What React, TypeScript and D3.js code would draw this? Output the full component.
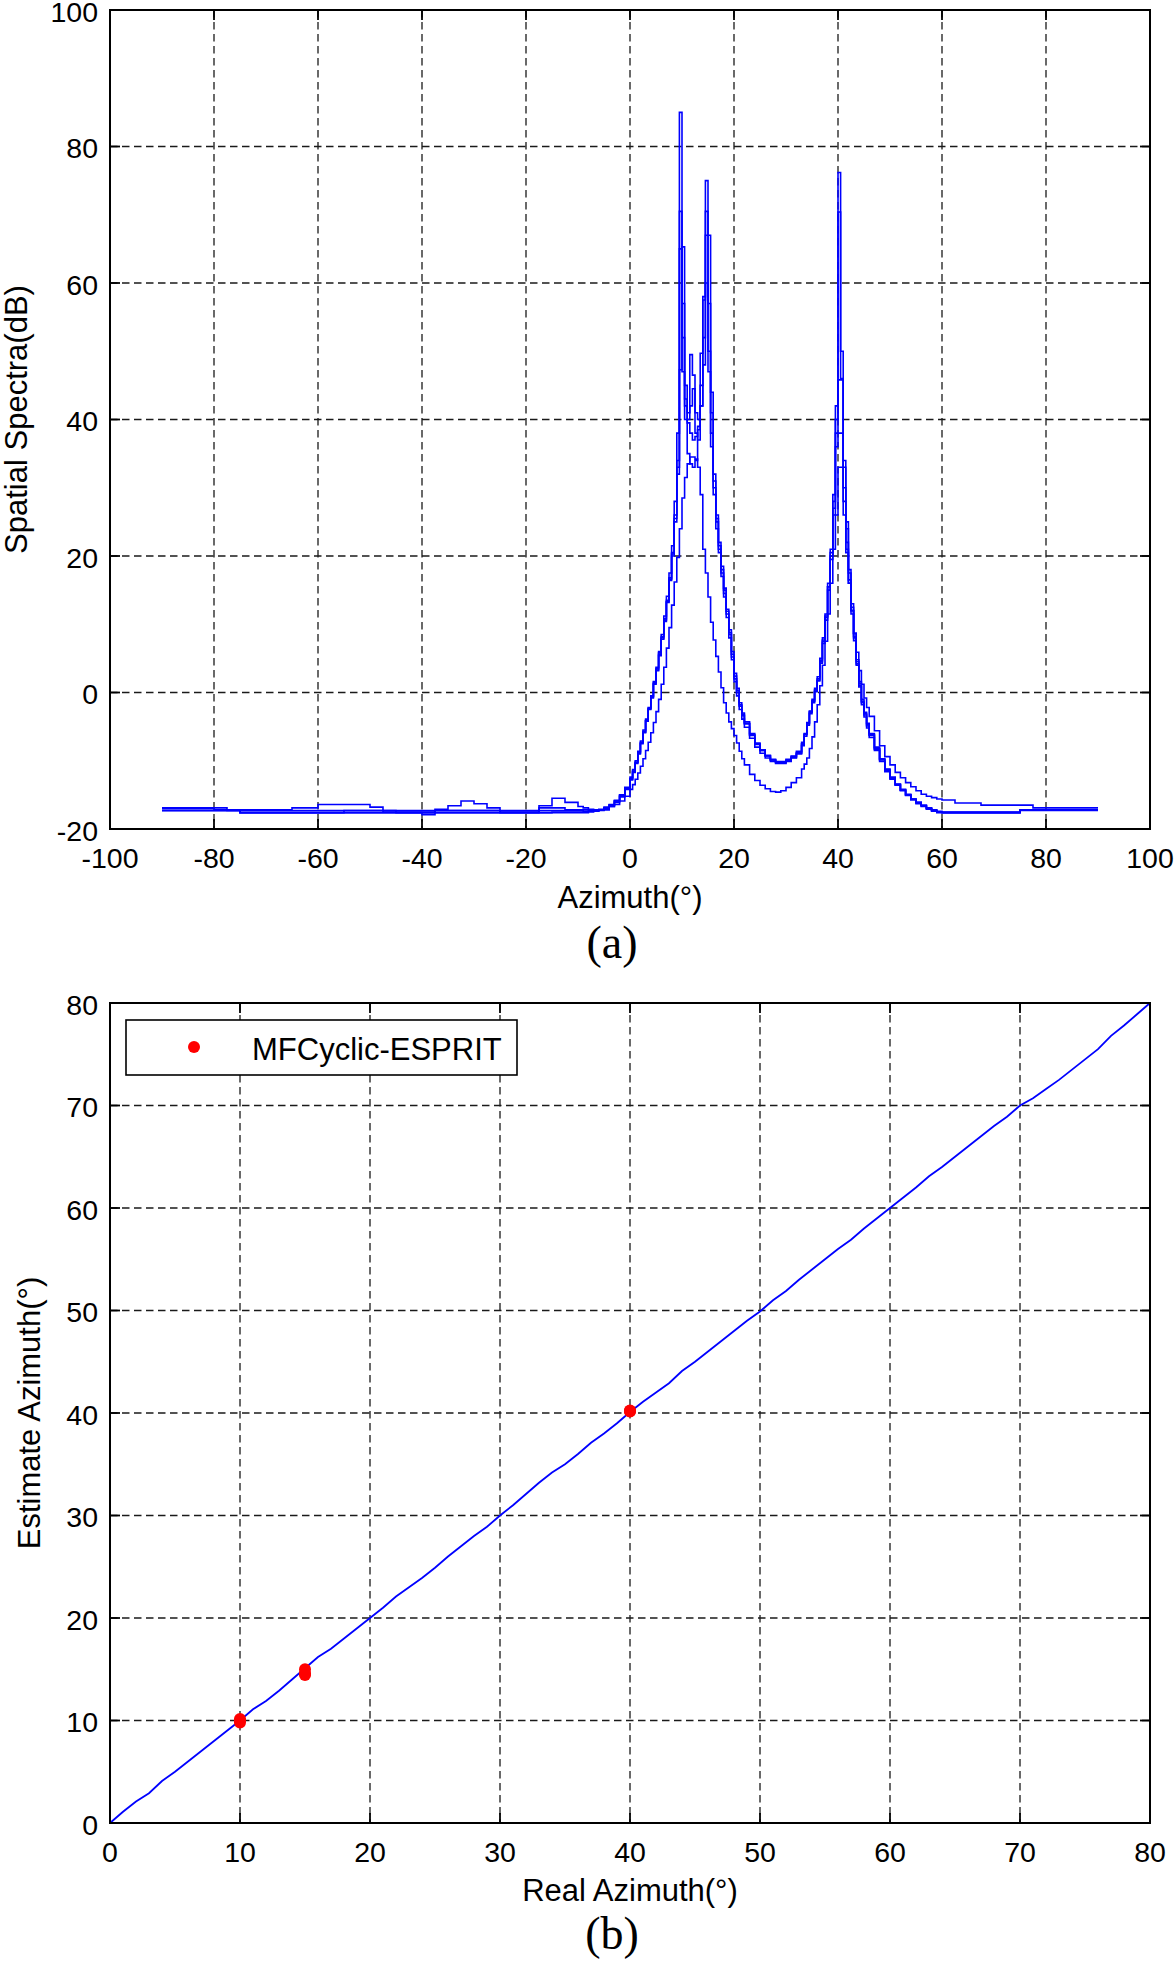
import React from 'react';
import * as d3 from 'd3';

// ---------- (a) spatial spectra ----------
const azimuthGrid = [
  -90, -87.5, -85, -82.5, -80, -77.5, -75, -72.5, -70, -67.5, -65, -62.5, -60, -57.5, -55, -52.5, -50,
  -47.5, -45, -42.5, -40, -37.5, -35, -32.5, -30, -27.5, -25, -22.5, -20, -17.5, -15, -12.5, -10,
  -9, -8, -7, -6, -5, -4, -3, -2, -1,
  0, 0.5, 1, 1.5, 2, 2.5, 3, 3.5, 4, 4.5, 5, 5.5, 6, 6.5, 7, 7.5, 8, 8.5, 9, 9.5, 10, 10.5, 11, 11.5,
  12, 12.5, 13, 13.5, 14, 14.5, 15, 15.5, 16, 16.5, 17, 17.5, 18, 18.5, 19, 19.5, 20, 20.5, 21, 21.5, 22,
  23, 24, 25, 26, 27, 28, 29, 30, 31, 32,
  33, 33.5, 34, 34.5, 35, 35.5, 36, 36.5, 37, 37.5, 38, 38.5, 39, 39.5, 40, 40.5, 41, 41.5, 42, 42.5,
  43, 43.5, 44, 44.5, 45, 45.5, 46,
  47, 48, 49, 50, 51, 52, 53, 54, 55, 56, 57, 58, 59, 60,
  62.5, 65, 67.5, 70, 72.5, 75, 77.5, 80, 82.5, 85, 87.5, 90,
];

const spectrumRun1 = [
  -17.3, -17.3, -17.3, -17.3, -17.3, -17.3, -17.6, -17.6, -17.6, -17.6, -17.6, -17.6, -17.6, -17.6, -17.6, -17.6, -17.6,
  -17.6, -17.6, -17.6, -17.6, -17.6, -17.6, -17.6, -17.6, -17.6, -17.6, -17.6, -17.6, -17.6, -17.5, -17.5, -17.5,
  -17.5, -17.4, -17.3, -17.1, -16.8, -16.4, -15.8, -15.0, -13.9,
  -12.4, -11.3, -10.0, -8.6, -7.1, -5.5, -3.9, -2.2, -0.5, 1.5, 3.5, 5.8, 8.2, 10.8, 13.5, 16.8, 20.5, 26, 33, 85, 52, 43, 39.5, 38,
  37, 37.5, 39, 42, 48, 75, 50, 38, 30, 25, 21, 17.5, 14.5, 11.5, 8.5, 5.2, 2.0, 0, -2.0, -3.4, -4.6,
  -6.3, -7.6, -8.5, -9.3, -9.9, -10.2, -10.2, -9.9, -9.4, -8.9,
  -7.6, -6.2, -4.6, -2.9, -1.3, 0.2, 1.8, 4.5, 7.5, 11, 15.5, 20, 28, 40, 76.2, 50, 33, 24, 17.5, 12.5,
  8, 4.2, 1, -1.5, -3.3, -4.9, -6.3,
  -8.3, -9.9, -11.4, -12.6, -13.5, -14.3, -15.0, -15.7, -16.2, -16.6, -17.0, -17.3, -17.5, -17.6,
  -17.6, -17.6, -17.6, -17.6, -17.6, -17.2, -17.2, -17.2, -17.2, -17.2, -17.2, -17.2,
];

const spectrumRun2 = [
  -17.0, -17.0, -17.0, -17.0, -17.2, -17.2, -17.2, -17.2, -17.2, -17.2, -16.9, -16.9, -16.4, -16.4, -16.4, -16.4, -16.8,
  -17.5, -17.5, -17.5, -17.5, -17.1, -16.6, -15.9, -16.3, -16.9, -17.5, -17.5, -17.5, -16.6, -15.5, -16.1, -16.7,
  -16.9, -17.1, -17.2, -17.3, -17.2, -16.7, -16.1, -15.3, -14.2,
  -12.8, -11.7, -10.4, -9.0, -7.5, -5.9, -4.2, -2.5, -0.8, 1.2, 3.2, 5.4, 7.8, 10.4, 13.2, 16.4, 20, 25.5, 34, 70.5, 57, 45, 41, 42,
  44.5, 41, 40, 45, 58, 70.5, 67, 44, 32, 26, 22, 18.5, 15.3, 12.2, 9.2, 6.0, 2.8, 0.6, -1.5, -3.0, -4.3,
  -6.0, -7.4, -8.4, -9.2, -9.8, -10.1, -10.1, -9.8, -9.3, -8.6,
  -7.3, -6.0, -4.4, -2.7, -1.0, 0.6, 2.3, 5.0, 8.0, 11.5, 16, 21, 29, 42, 70.4, 46, 34, 25, 18, 13,
  8.6, 4.8, 1.6, -1.0, -2.9, -4.5, -6.0,
  -8.0, -9.7, -11.2, -12.4, -13.4, -14.2, -14.9, -15.6, -16.1, -16.5, -16.9, -17.2, -17.4, -17.5,
  -17.5, -17.5, -17.5, -17.5, -17.5, -17.2, -17.2, -17.2, -17.2, -17.2, -17.2, -17.2,
];

const spectrumRun3 = [
  -17.3, -17.3, -17.3, -17.3, -17.3, -17.3, -17.6, -17.6, -17.6, -17.6, -17.6, -17.6, -17.6, -17.6, -17.3, -17.3, -17.3,
  -17.3, -17.6, -17.6, -17.6, -17.3, -17.3, -17.3, -17.3, -17.3, -17.6, -17.6, -17.6, -16.9, -16.9, -17.2, -17.2,
  -17.2, -17.3, -17.3, -17.2, -16.9, -16.5, -15.9, -15.1, -14.0,
  -12.6, -11.5, -10.2, -8.8, -7.3, -5.7, -4.1, -2.4, -0.7, 1.3, 3.3, 5.6, 8.0, 10.6, 13.3, 16.6, 20.3, 25, 32, 47.3, 65.3, 42, 40, 49.5,
  46.5, 38, 37, 49.7, 57.5, 67, 57, 41, 31, 25.5, 21.5, 18, 15, 11.9, 8.8, 5.6, 2.4, 0.3, -1.8, -3.2, -4.5,
  -6.2, -7.5, -8.5, -9.3, -9.9, -10.3, -10.3, -10.0, -9.5, -8.8,
  -7.5, -6.1, -4.5, -2.8, -1.2, 0.4, 2.0, 4.7, 7.7, 11.2, 15.5, 20.5, 27, 38, 45.8, 45.8, 30, 22, 16.5, 12,
  8.2, 4.5, 1.3, -1.3, -3.1, -4.7, -6.2,
  -8.2, -9.8, -11.3, -12.5, -13.5, -14.3, -15.0, -15.6, -16.1, -16.6, -17.0, -17.3, -17.5, -17.6,
  -17.6, -17.6, -17.6, -17.6, -17.6, -17.3, -17.3, -17.3, -17.3, -17.3, -17.3, -17.3,
];

const spectrumRun4 = [
  -17.3, -17.3, -17.3, -17.3, -17.3, -17.3, -17.6, -17.6, -17.6, -17.6, -17.6, -17.6, -17.6, -17.6, -17.6, -17.6, -17.6,
  -17.6, -17.6, -17.6, -17.9, -17.6, -17.6, -17.6, -17.6, -17.6, -17.6, -17.6, -17.6, -17.6, -17.6, -17.6, -17.6,
  -17.6, -17.5, -17.4, -17.2, -16.9, -16.5, -15.9, -15.1, -14.1,
  -12.7, -11.6, -10.3, -8.9, -7.4, -5.8, -4.1, -2.3, -0.5, 1.6, 3.7, 6.0, 8.5, 11.2, 14.1, 17.5, 21.5, 28, 38, 65, 47, 40, 35, 33.5,
  33, 34, 38.5, 42, 52, 60, 47, 36, 29, 24, 20.5, 17, 14, 11, 8, 4.8, 1.6, -0.5, -2.5, -3.9, -5.1,
  -6.7, -8.0, -8.9, -9.6, -10.1, -10.4, -10.4, -10.1, -9.6, -9.0,
  -7.8, -6.4, -4.8, -3.1, -1.5, 0.1, 1.7, 4.3, 7.2, 10.6, 15, 19.5, 26, 36, 38, 38, 28, 21, 16, 11.5,
  7.6, 4.0, 0.8, -1.8, -3.6, -5.2, -6.6,
  -8.5, -10.1, -11.6, -12.7, -13.6, -14.4, -15.1, -15.7, -16.3, -16.7, -17.1, -17.4, -17.6, -17.6,
  -17.6, -17.6, -17.6, -17.6, -17.6, -17.2, -17.2, -17.2, -17.2, -17.2, -17.2, -17.2,
];

const spectrumRun5 = [
  -16.9, -16.9, -16.9, -16.9, -16.9, -17.3, -17.3, -17.3, -17.3, -17.3, -17.3, -17.3, -17.3, -17.3, -17.3, -17.3, -17.3,
  -17.3, -17.3, -17.3, -17.3, -17.3, -17.3, -17.3, -17.3, -17.3, -17.3, -17.3, -17.3, -17.3, -17.3, -17.3, -17.3,
  -17.4, -17.4, -17.3, -17.2, -17.0, -16.7, -16.4, -15.9, -15.2,
  -14.2, -13.5, -12.7, -11.8, -10.8, -9.7, -8.5, -7.3, -5.9, -4.4, -2.8, -1.0, 1.2, 3.7, 6.5, 9.5, 12.8, 16.2, 19.8, 24, 28.5, 31.5, 33.5, 34.5,
  34.5, 34.2, 33, 29, 21, 17.5, 14, 10.3, 7.7, 5.3, 3.0, 0.7, -1.5, -3.0, -4.3, -5.3, -6.3, -7.4, -8.6, -9.7, -10.6,
  -12.0, -12.9, -13.6, -14.1, -14.5, -14.6, -14.4, -13.9, -13.2, -12.5,
  -11.2, -10.5, -9.6, -8.2, -6.5, -4.3, -1.8, 1.0, 4.0, 7.5, 11.5, 16, 21, 26, 33, 33, 26, 20.5, 16, 12,
  8.7, 5.9, 3.2, 1.2, -0.8, -2.2, -3.5,
  -5.6, -7.8, -9.4, -10.6, -11.7, -12.5, -13.2, -13.8, -14.4, -14.9, -15.2, -15.4, -15.6, -15.75,
  -16.2, -16.2, -16.5, -16.5, -16.5, -16.5, -16.9, -16.9, -16.9, -16.9, -16.9, -16.9,
];

const spectrumRuns = [spectrumRun1, spectrumRun2, spectrumRun3, spectrumRun4, spectrumRun5];
const topXTicks = [-100, -80, -60, -40, -20, 0, 20, 40, 60, 80, 100];
const topYTicks = [-20, 0, 20, 40, 60, 80, 100];

// ---------- (b) estimate vs real ----------
const realAzimuth = [
  0, 1, 2, 3, 4, 5, 6, 7, 8, 9, 10, 11, 12, 13, 14, 15, 16, 17, 18, 19, 20, 21, 22, 23, 24, 25, 26, 27, 28, 29,
  30, 31, 32, 33, 34, 35, 36, 37, 38, 39, 40, 41, 42, 43, 44, 45, 46, 47, 48, 49, 50, 51, 52, 53, 54, 55, 56, 57, 58, 59,
  60, 61, 62, 63, 64, 65, 66, 67, 68, 69, 70, 71, 72, 73, 74, 75, 76, 77, 78, 79, 80,
];
const estimateAzimuth = [
  0, 1.1, 2.1, 2.9, 4.1, 5.0, 6.0, 7.0, 8.0, 9.0,
  10.0, 11.1, 11.9, 12.9, 14.0, 15.1, 16.2, 17.0, 18.0, 19.0,
  20.0, 21.0, 22.1, 23.0, 23.9, 24.9, 26.0, 27.0, 28.0, 28.9,
  30.0, 31.0, 32.1, 33.2, 34.2, 35.0, 36.0, 37.1, 38.0, 39.0,
  40.1, 41.1, 42.0, 42.9, 44.1, 45.0, 46.0, 47.0, 48.0, 49.0,
  49.9, 51.0, 51.9, 53.0, 54.0, 55.0, 56.0, 56.9, 58.0, 59.0,
  60.0, 61.0, 62.0, 63.1, 64.0, 65.0, 66.0, 67.0, 68.0, 68.9,
  70.0, 70.7, 71.6, 72.5, 73.5, 74.5, 75.5, 76.8, 77.8, 78.9,
  80.0,
];
const espritReal = [10, 10, 10, 15, 15, 15, 40, 40, 40];
const espritEstimate = [9.8, 10.0, 10.15, 15.0, 14.6, 14.45, 40.15, 40.2, 40.25];
const botXTicks = [0, 10, 20, 30, 40, 50, 60, 70, 80];
const botYTicks = [0, 10, 20, 30, 40, 50, 60, 70, 80];

const SANS = '"Liberation Sans", Arial, Helvetica, sans-serif';
const SERIF = '"Liberation Serif", "Times New Roman", serif';

type Scale = d3.ScaleLinear<number, number>;

function Grid({ xs, ys, xTicks, yTicks }: { xs: Scale; ys: Scale; xTicks: number[]; yTicks: number[] }) {
  const [x0, x1] = xs.range();
  const [y0, y1] = ys.range();
  return (
    <g stroke="#1a1a1a" strokeWidth={1.3} strokeDasharray="7.5 4.5" fill="none">
      {xTicks.slice(1, -1).map((t) => (
        <line key={'gx' + t} x1={xs(t)} x2={xs(t)} y1={y1} y2={y0} />
      ))}
      {yTicks.slice(1, -1).map((t) => (
        <line key={'gy' + t} x1={x0} x2={x1} y1={ys(t)} y2={ys(t)} />
      ))}
    </g>
  );
}

function Frame({
  xs, ys, xTicks, yTicks, xLabelY, yLabelX, xLabel, yLabel, tickLabelY,
}: {
  xs: Scale; ys: Scale; xTicks: number[]; yTicks: number[]; xLabelY: number; yLabelX: number;
  xLabel: string; yLabel: string; tickLabelY: number;
}) {
  const [x0, x1] = xs.range();
  const [y0, y1] = ys.range();
  const tl = 10;
  return (
    <g>
      <g stroke="#000" strokeWidth={1.8}>
        {xTicks.map((t) => (
          <g key={'tx' + t}>
            <line x1={xs(t)} x2={xs(t)} y1={y0} y2={y0 - tl} />
            <line x1={xs(t)} x2={xs(t)} y1={y1} y2={y1 + tl} />
          </g>
        ))}
        {yTicks.map((t) => (
          <g key={'ty' + t}>
            <line x1={x0} x2={x0 + tl} y1={ys(t)} y2={ys(t)} />
            <line x1={x1} x2={x1 - tl} y1={ys(t)} y2={ys(t)} />
          </g>
        ))}
      </g>
      <rect x={x0} y={y1} width={x1 - x0} height={y0 - y1} fill="none" stroke="#000" strokeWidth={2} />
      <g fontFamily={SANS} fontSize={28.5} fill="#000">
        {xTicks.map((t) => (
          <text key={'lx' + t} x={xs(t)} y={tickLabelY} textAnchor="middle">{t}</text>
        ))}
        {yTicks.map((t) => (
          <text key={'ly' + t} x={98} y={ys(t) + 11.5} textAnchor="end">{t}</text>
        ))}
      </g>
      <text x={(x0 + x1) / 2} y={xLabelY} textAnchor="middle" fontFamily={SANS} fontSize={31}>{xLabel}</text>
      <text
        transform={`translate(${yLabelX},${(y0 + y1) / 2}) rotate(-90)`}
        textAnchor="middle"
        fontFamily={SANS}
        fontSize={31}
      >
        {yLabel}
      </text>
    </g>
  );
}

export default function App() {
  const xTop = d3.scaleLinear().domain([-100, 100]).range([110, 1150]);
  const yTop = d3.scaleLinear().domain([-20, 100]).range([829, 10]);
  const xBot = d3.scaleLinear().domain([0, 80]).range([110, 1150]);
  const yBot = d3.scaleLinear().domain([0, 80]).range([1823, 1003]);

  const specLine = d3
    .line<[number, number]>()
    .x((d) => xTop(d[0]))
    .y((d) => yTop(d[1]))
    .curve(d3.curveStepAfter);

  const estLine = d3
    .line<[number, number]>()
    .x((d) => xBot(d[0]))
    .y((d) => yBot(d[1]));

  const estPts: [number, number][] = realAzimuth.map((r, i) => [r, estimateAzimuth[i]]);

  return (
    <svg
      width={1176}
      height={1961}
      viewBox="0 0 1176 1961"
      style={{ position: 'absolute', left: 0, top: 0, background: '#fff' }}
    >
      <rect x={0} y={0} width={1176} height={1961} fill="#fff" />

      {/* (a) */}
      <Grid xs={xTop} ys={yTop} xTicks={topXTicks} yTicks={topYTicks} />
      <g fill="none" stroke="#0000ff" strokeWidth={1.6} strokeLinejoin="miter">
        {spectrumRuns.map((run, k) => {
          const pts: [number, number][] = azimuthGrid.map((a, i) => [a, run[i]]);
          return <path key={'run' + k} d={specLine(pts) || ''} />;
        })}
      </g>
      <Frame
        xs={xTop}
        ys={yTop}
        xTicks={topXTicks}
        yTicks={topYTicks}
        tickLabelY={868}
        xLabelY={908}
        yLabelX={27}
        xLabel="Azimuth(°)"
        yLabel="Spatial Spectra(dB)"
      />
      <text x={612} y={958} textAnchor="middle" fontFamily={SERIF} fontSize={46}>(a)</text>

      {/* (b) */}
      <Grid xs={xBot} ys={yBot} xTicks={botXTicks} yTicks={botYTicks} />
      <path d={estLine(estPts) || ''} fill="none" stroke="#0000ff" strokeWidth={1.8} />
      <g fill="#ff0000">
        {espritReal.map((r, i) => (
          <circle key={'pt' + i} cx={xBot(r)} cy={yBot(espritEstimate[i])} r={6} />
        ))}
      </g>
      <g>
        <rect x={126} y={1020} width={391} height={55} fill="#fff" stroke="#000" strokeWidth={1.6} />
        <circle cx={194} cy={1047} r={6} fill="#ff0000" />
        <text x={252} y={1060} fontFamily={SANS} fontSize={31}>MFCyclic-ESPRIT</text>
      </g>
      <Frame
        xs={xBot}
        ys={yBot}
        xTicks={botXTicks}
        yTicks={botYTicks}
        tickLabelY={1862}
        xLabelY={1901}
        yLabelX={40}
        xLabel="Real Azimuth(°)"
        yLabel="Estimate Azimuth(°)"
      />
      <text x={612} y={1949} textAnchor="middle" fontFamily={SERIF} fontSize={46}>(b)</text>
    </svg>
  );
}
